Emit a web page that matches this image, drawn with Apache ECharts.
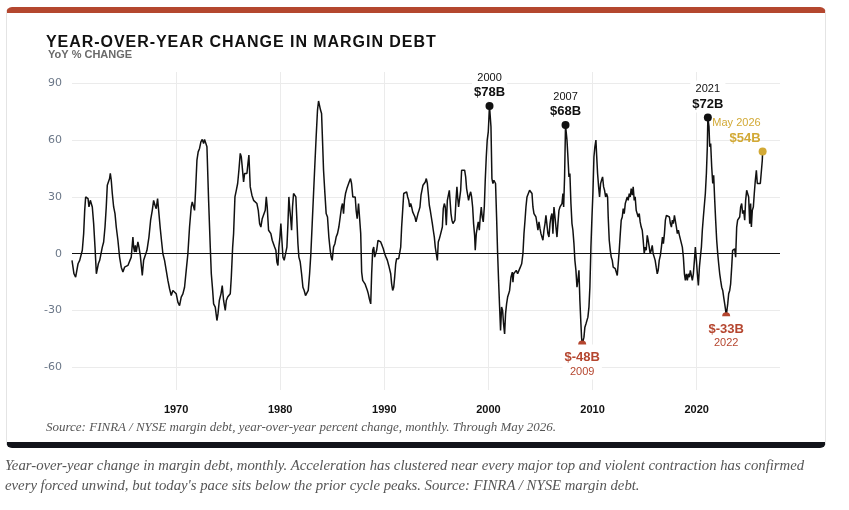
<!DOCTYPE html>
<html>
<head>
<meta charset="utf-8">
<title>Year-over-year change in margin debt</title>
<script src="https://cdn.jsdelivr.net/npm/echarts@6.0.0/dist/echarts.min.js"></script>
<style>
  html, body {
    margin: 0;
    padding: 0;
    background: #fff;
  }
  .page {
    position: relative;
    width: 849px;
    height: 510px;
    overflow: hidden;
  }
  .card {
    position: absolute;
    left: 6px;
    top: 7px;
    width: 820px;
    height: 441px;
    box-sizing: border-box;
    border-top: 6px solid #b4472f;
    border-bottom: 6px solid #12141a;
    border-left: 1px solid #e4e4e4;
    border-right: 1px solid #e4e4e4;
    border-radius: 6px;
    background: #fff;
  }
  #chart {
    position: absolute;
    left: 0;
    top: 0;
    width: 849px;
    height: 510px;
  }
  .title {
    position: absolute;
    left: 46px;
    top: 34px;
    font-family: "Liberation Sans", Arial, sans-serif;
    font-weight: bold;
    font-size: 16px;
    line-height: 16px;
    letter-spacing: 0.95px;
    color: #111;
    white-space: nowrap;
  }
  .source {
    position: absolute;
    left: 46px;
    top: 418px;
    font-family: "Liberation Serif", serif;
    font-style: italic;
    font-size: 13px;
    line-height: 18px;
    color: #555;
    white-space: nowrap;
  }
  .caption {
    position: absolute;
    left: 5px;
    top: 455px;
    font-family: "Liberation Serif", serif;
    font-style: italic;
    font-size: 14.75px;
    line-height: 20px;
    color: #555;
    white-space: nowrap;
  }
</style>
</head>
<body>
<div class="page">
  <div class="card"></div>
  <div id="chart"></div>
  <div class="title">YEAR-OVER-YEAR CHANGE IN MARGIN DEBT</div>
  <div class="source">Source: FINRA / NYSE margin debt, year-over-year percent change, monthly. Through May 2026.</div>
  <div class="caption">Year-over-year change in margin debt, monthly. Acceleration has clustered near every major top and violent contraction has confirmed<br>every forced unwind, but today's pace sits below the prior cycle peaks. Source: FINRA / NYSE margin debt.</div>
</div>

<script>
// YoY % change in margin debt, [year, pct]
const yoy1960s = [
  [1960.00, -3.5], [1960.19, -10.6], [1960.35, -12.4], [1960.51, -11.5], [1960.58, -5.3], [1960.74, -3.5], [1960.90, -4.4], [1960.99, 1.8],
  [1961.12, 10.6], [1961.22, 22.9], [1961.31, 30.0], [1961.44, 30.0], [1961.54, 29.1], [1961.63, 24.7], [1961.76, 28.2], [1961.86, 29.1], [1961.95, 24.7],
  [1962.08, 15.9], [1962.21, 3.5], [1962.34, -10.6], [1962.43, -10.6], [1962.53, -5.3], [1962.66, -3.5], [1962.82, -2.6], [1962.91, 3.5],
  [1963.04, 6.2], [1963.17, 14.1], [1963.29, 24.7], [1963.39, 36.2], [1963.49, 35.3], [1963.61, 39.7], [1963.68, 42.4], [1963.77, 38.8], [1963.87, 31.8],
  [1964.00, 24.7], [1964.13, 21.2], [1964.25, 14.1], [1964.41, 7.1], [1964.57, -1.8], [1964.73, -7.1], [1964.89, -9.7],
  [1965.05, -7.1], [1965.21, -7.9], [1965.37, -6.2], [1965.53, -7.1], [1965.69, -1.8], [1965.85, 8.8], [1965.92, 3.5],
  [1966.01, 0.9], [1966.08, 4.4], [1966.17, 0.9], [1966.33, 6.2], [1966.43, 3.5], [1966.56, -0.9], [1966.75, -11.5], [1966.88, -3.5],
  [1967.04, -4.4], [1967.20, 1.8], [1967.39, 8.8], [1967.55, 17.7], [1967.71, 22.9], [1967.84, 28.2], [1967.97, 25.6],
  [1968.09, 23.8], [1968.22, 29.1], [1968.35, 21.2], [1968.48, 13.2], [1968.61, 6.2], [1968.73, 0], [1968.89, -3.5],
  [1969.05, -8.8], [1969.21, -14.1], [1969.37, -18.5], [1969.53, -22.1], [1969.69, -19.4], [1969.85, -20.3]
]

const yoy1970s = [
  [1970.01, -21.2], [1970.17, -25.6], [1970.33, -27.4], [1970.49, -22.9], [1970.65, -21.2], [1970.81, -17.7], [1970.97, -8.8],
  [1971.13, 0], [1971.29, 14.1], [1971.45, 24.7], [1971.55, 27.4], [1971.68, 26.5], [1971.77, 22.9], [1971.87, 33.5],
  [1972.00, 49.4], [1972.12, 53.8], [1972.25, 55.6], [1972.38, 59.1], [1972.51, 60.4], [1972.64, 58.2], [1972.73, 60.4], [1972.90, 60.9], [1972.96, 56.5],
  [1973.12, 28.2], [1973.28, 3.5], [1973.38, -10.6], [1973.51, -19.4], [1973.60, -26.5], [1973.76, -28.2], [1973.92, -35.3],
  [1974.02, -31.8], [1974.15, -24.7], [1974.31, -21.2], [1974.43, -16.8], [1974.56, -24.7], [1974.72, -30.0], [1974.82, -24.7], [1974.95, -22.9],
  [1975.07, -22.9], [1975.20, -21.2], [1975.30, -12.4], [1975.43, 3.5], [1975.52, 10.6], [1975.65, 30.0], [1975.78, 33.5], [1975.91, 37.1],
  [1976.03, 44.1], [1976.16, 53.0], [1976.26, 51.2], [1976.35, 45.9], [1976.48, 37.9], [1976.58, 42.4], [1976.71, 43.2], [1976.80, 42.4], [1976.90, 47.7], [1976.99, 52.1],
  [1977.12, 35.3], [1977.28, 30.9], [1977.44, 28.2], [1977.60, 27.4], [1977.76, 26.5], [1977.89, 22.9],
  [1978.02, 15.9], [1978.14, 14.1], [1978.27, 18.5], [1978.40, 19.4], [1978.56, 22.9], [1978.66, 30.0], [1978.75, 24.7], [1978.88, 12.4],
  [1979.01, 11.5], [1979.10, 10.6], [1979.23, 7.1], [1979.36, 6.2], [1979.46, 3.5], [1979.58, 1.8], [1979.68, -4.4], [1979.78, -6.2], [1979.87, 3.5], [1979.97, 8.8]
]

const yoy1980s = [
  [1980.06, 15.9], [1980.16, 7.1], [1980.26, -1.8], [1980.38, -3.5], [1980.51, -4.4], [1980.64, 3.5], [1980.74, 15.9], [1980.83, 30.0], [1980.90, 24.7], [1980.99, 19.4],
  [1981.09, 12.4], [1981.18, 24.7], [1981.28, 31.8], [1981.41, 32.7], [1981.50, 30.0], [1981.60, 17.7], [1981.70, 5.3], [1981.79, -1.8], [1981.92, -4.4],
  [1982.05, -10.6], [1982.18, -17.7], [1982.30, -19.4], [1982.43, -22.1], [1982.56, -22.9], [1982.69, -19.4], [1982.82, -10.6], [1982.94, 0],
  [1983.07, 15.9], [1983.20, 31.8], [1983.33, 47.7], [1983.45, 61.8], [1983.58, 75.9], [1983.68, 80.7], [1983.77, 80.3], [1983.87, 75.9], [1983.97, 74.1],
  [1984.06, 60.0], [1984.16, 44.1], [1984.29, 31.8], [1984.41, 21.2], [1984.54, 19.4], [1984.67, 8.8], [1984.80, 1.8], [1984.89, -1.8], [1984.99, -3.5],
  [1985.12, 3.5], [1985.25, 5.3], [1985.37, 8.8], [1985.50, 10.6], [1985.63, 14.1], [1985.76, 19.4], [1985.89, 24.7], [1985.98, 26.5],
  [1986.08, 21.2], [1986.17, 28.2], [1986.27, 31.8], [1986.40, 34.4], [1986.49, 35.3], [1986.62, 37.9], [1986.75, 39.7], [1986.85, 37.1], [1986.97, 30.0],
  [1987.10, 30.9], [1987.20, 30.0], [1987.29, 22.9], [1987.39, 18.5], [1987.52, 26.5], [1987.63, 27.4], [1987.73, 10.6], [1987.82, -9.7], [1987.92, -14.1],
  [1988.05, -13.2], [1988.14, -15.9], [1988.24, -16.8], [1988.37, -19.4], [1988.46, -21.2], [1988.56, -23.8], [1988.69, -26.5], [1988.78, -10.6], [1988.88, 1.8], [1988.98, 3.5],
  [1989.07, -1.8], [1989.17, -1.8], [1989.26, 1.8], [1989.39, 7.1], [1989.52, 7.9], [1989.65, 6.2], [1989.78, 4.4], [1989.90, 2.6]
]

const yoy1990s = [
  [1990.03, 0], [1990.16, -1.8], [1990.29, -3.5], [1990.42, -6.2], [1990.51, -7.1], [1990.61, -10.6], [1990.70, -15.9], [1990.80, -19.4], [1990.90, -17.7], [1990.99, -12.4],
  [1991.09, -5.3], [1991.18, -2.6], [1991.28, -3.5], [1991.38, -2.6], [1991.47, -1.8], [1991.57, 3.5], [1991.66, 14.1], [1991.76, 22.9], [1991.86, 31.8], [1991.95, 32.7],
  [1992.05, 31.8], [1992.14, 32.7], [1992.24, 30.0], [1992.34, 28.2], [1992.43, 24.7], [1992.53, 26.5], [1992.62, 24.7], [1992.72, 22.1], [1992.82, 21.2], [1992.94, 19.4],
  [1993.04, 16.8], [1993.13, 15.9], [1993.23, 21.2], [1993.33, 22.9], [1993.42, 24.7], [1993.52, 30.9], [1993.61, 31.8], [1993.71, 36.2], [1993.81, 37.1], [1993.93, 37.9],
  [1994.03, 39.7], [1994.13, 37.1], [1994.22, 31.8], [1994.32, 25.6], [1994.41, 22.9], [1994.51, 19.4], [1994.61, 15.9], [1994.70, 12.4], [1994.80, 8.8], [1994.89, 3.5], [1994.99, 2.6],
  [1995.09, -3.5], [1995.18, 6.2], [1995.28, 7.9], [1995.37, 9.7], [1995.47, 10.6], [1995.57, 14.1], [1995.66, 23.8], [1995.76, 26.5], [1995.85, 24.7], [1995.95, 15.0],
  [1996.05, 28.2], [1996.14, 29.1], [1996.24, 33.5], [1996.33, 34.4], [1996.40, 21.2], [1996.49, 17.7], [1996.59, 15.9], [1996.69, 15.9], [1996.78, 17.7], [1996.88, 28.2], [1996.97, 35.3],
  [1997.04, 30.0], [1997.13, 24.7], [1997.23, 25.6], [1997.33, 33.5], [1997.42, 44.1], [1997.52, 45.0], [1997.61, 43.2], [1997.71, 44.1], [1997.81, 40.6], [1997.90, 34.4],
  [1998.00, 35.3], [1998.09, 28.2], [1998.19, 30.9], [1998.29, 32.7], [1998.38, 30.0], [1998.48, 24.7], [1998.57, 15.9], [1998.67, 9.7], [1998.73, 1.8], [1998.83, 10.6], [1998.93, 14.1],
  [1999.02, 16.8], [1999.12, 12.4], [1999.21, 19.4], [1999.31, 24.7], [1999.40, 19.4], [1999.50, 16.8], [1999.60, 24.7], [1999.69, 38.8], [1999.79, 51.2], [1999.88, 60.0], [1999.98, 64.4]
]

const yoy2000s = [
  [2000.10, 78], [2000.24, 67.1], [2000.33, 39.7], [2000.43, 37.1], [2000.52, 38.8], [2000.62, 39.7], [2000.68, 37.1], [2000.78, 19.4], [2000.88, 0], [2000.97, -14.1],
  [2001.07, -28.2], [2001.16, -40.6], [2001.26, -28.2], [2001.36, -30.0], [2001.45, -37.1], [2001.55, -42.4], [2001.64, -31.8], [2001.74, -26.5], [2001.84, -22.9], [2001.94, -21.2],
  [2002.03, -19.4], [2002.16, -12.4], [2002.29, -9.7], [2002.35, -15.0], [2002.42, -10.6], [2002.55, -9.7], [2002.67, -8.8], [2002.80, -10.6], [2002.93, -8.8],
  [2003.06, -7.1], [2003.19, -5.3], [2003.31, 0], [2003.41, 10.6], [2003.51, 17.7], [2003.60, 24.7], [2003.70, 30.0], [2003.83, 31.8], [2003.95, 33.5],
  [2004.08, 34.4], [2004.18, 31.8], [2004.27, 24.7], [2004.37, 21.2], [2004.47, 20.3], [2004.56, 19.4], [2004.66, 15.9], [2004.75, 12.4], [2004.85, 16.8], [2004.95, 13.2],
  [2005.04, 10.6], [2005.14, 9.7], [2005.23, 7.1], [2005.33, 12.4], [2005.43, 15.9], [2005.52, 20.3], [2005.62, 19.4], [2005.71, 10.6], [2005.81, 8.8], [2005.91, 15.9],
  [2006.00, 19.4], [2006.10, 21.2], [2006.19, 10.6], [2006.29, 24.7], [2006.39, 19.4], [2006.48, 14.1], [2006.58, 8.8], [2006.67, 15.9], [2006.77, 22.9], [2006.87, 24.7], [2006.96, 24.7],
  [2007.06, 26.5], [2007.15, 31.8], [2007.22, 24.7], [2007.31, 40.6], [2007.40, 68], [2007.54, 60.0], [2007.63, 51.2], [2007.73, 40.6], [2007.82, 42.4], [2007.92, 26.5],
  [2008.02, 15.9], [2008.11, 12.4], [2008.21, 5.3], [2008.30, -3.5], [2008.40, -8.8], [2008.50, -17.7], [2008.59, -14.1], [2008.69, -8.8], [2008.78, -24.7], [2008.88, -37.1], [2008.94, -44.1],
  [2009.00, -48], [2009.17, -44.1], [2009.26, -38.8], [2009.36, -37.1], [2009.46, -37.1], [2009.55, -33.5], [2009.65, -28.2], [2009.74, -17.7], [2009.84, 3.5], [2009.94, 19.4]
]

const yoy2010s = [
  [2010.03, 31.8], [2010.13, 51.2], [2010.22, 56.5], [2010.32, 60.0], [2010.38, 53.0], [2010.48, 42.4], [2010.58, 35.3], [2010.67, 30.0], [2010.77, 37.1], [2010.86, 38.8], [2010.96, 40.6],
  [2011.06, 35.3], [2011.15, 33.5], [2011.25, 30.0], [2011.34, 31.8], [2011.44, 30.0], [2011.50, 19.4], [2011.60, 7.1], [2011.70, 1.8], [2011.79, -1.8], [2011.89, -3.5], [2011.98, -7.1],
  [2012.08, -7.9], [2012.18, -7.9], [2012.27, -8.8], [2012.37, -11.5], [2012.46, -5.3], [2012.56, 1.8], [2012.66, 10.6], [2012.75, 17.7], [2012.85, 19.4], [2012.94, 23.8],
  [2013.04, 21.2], [2013.14, 26.5], [2013.23, 28.2], [2013.33, 30.0], [2013.42, 28.2], [2013.52, 31.8], [2013.61, 30.0], [2013.71, 34.4], [2013.81, 30.9], [2013.90, 35.3],
  [2014.00, 28.2], [2014.09, 30.0], [2014.19, 22.9], [2014.29, 22.1], [2014.38, 19.4], [2014.48, 21.2], [2014.57, 16.8], [2014.67, 14.1], [2014.77, 12.4], [2014.86, 7.1], [2014.96, 0],
  [2015.05, 3.5], [2015.15, 1.8], [2015.25, 9.7], [2015.34, 7.1], [2015.44, 3.5], [2015.53, 0], [2015.63, 1.8], [2015.73, 4.4], [2015.82, 0], [2015.92, -1.8],
  [2016.01, -3.5], [2016.11, -7.1], [2016.21, -10.6], [2016.30, -8.8], [2016.40, -3.5], [2016.51, -0.9], [2016.61, 3.5], [2016.71, 8.8], [2016.80, 5.3], [2016.90, 10.6], [2016.99, 17.7],
  [2017.09, 20.3], [2017.18, 19.4], [2017.28, 20.3], [2017.38, 19.4], [2017.47, 15.9], [2017.57, 14.1], [2017.66, 17.7], [2017.76, 15.9], [2017.86, 20.3], [2017.95, 21.2],
  [2018.05, 14.1], [2018.14, 10.6], [2018.24, 12.4], [2018.34, 9.7], [2018.43, 10.6], [2018.53, 8.8], [2018.62, 3.5], [2018.72, -1.8], [2018.82, -10.6], [2018.91, -14.1],
  [2019.01, -10.6], [2019.10, -14.1], [2019.20, -10.6], [2019.30, -12.4], [2019.39, -8.8], [2019.49, -7.9], [2019.58, -14.1], [2019.68, -10.6], [2019.78, -3.5], [2019.87, 3.5], [2019.97, -3.5]
]

const yoy2020s = [
  [2020.06, -10.6], [2020.16, -16.8], [2020.26, -7.1], [2020.35, -1.8], [2020.45, 3.5], [2020.54, 12.4], [2020.64, 19.4], [2020.74, 19.4], [2020.83, 31.8], [2020.93, 42.4],
  [2021.02, 56.5], [2021.07, 72], [2021.18, 67.1], [2021.25, 56.5], [2021.34, 58.2], [2021.44, 45.9], [2021.54, 37.1], [2021.63, 41.5], [2021.73, 28.2], [2021.82, 17.7], [2021.92, 7.1],
  [2022.02, 0], [2022.11, -5.3], [2022.21, -10.6], [2022.30, -14.1], [2022.40, -17.7], [2022.50, -19.4], [2022.59, -22.9], [2022.69, -26.5], [2022.78, -30.0], [2022.83, -33], [2022.98, -26.5],
  [2023.07, -21.2], [2023.17, -19.4], [2023.26, -15.9], [2023.36, -7.1], [2023.45, 1.8], [2023.55, 0.9], [2023.65, 2.6], [2023.74, -1.8], [2023.84, 14.1], [2023.93, 17.7],
  [2024.03, 17.7], [2024.13, 19.4], [2024.22, 24.7], [2024.32, 26.5], [2024.41, 21.2], [2024.51, 22.9], [2024.61, 17.7], [2024.70, 28.2], [2024.80, 33.5], [2024.89, 34.4], [2024.99, 30.0],
  [2025.09, 15.9], [2025.18, 26.5], [2025.25, 14.1], [2025.34, 22.9], [2025.44, 24.7], [2025.53, 31.8], [2025.63, 38.8], [2025.73, 44.1], [2025.82, 37.1], [2025.92, 36.2],
  [2026.01, 37.1], [2026.11, 37.1], [2026.21, 37.9], [2026.30, 49.4], [2026.33, 54]
]

// 标注点：cycle peaks, troughs and the latest reading
const calloutDates = [2000.10, 2007.40, 2009.00, 2021.07, 2022.83, 2026.33]
const calloutValues = [78, 68, -48, 72, -33, 54]
const calloutYears = ['2000', '2007', '2009', '2021', '2022', 'May 2026']
const calloutAmounts = ['$78B', '$68B', '$-48B', '$72B', '$-33B', '$54B']

const yTicks = [-60, -30, 0, 30, 60, 90]

const yoyData = [].concat(yoy1960s, yoy1970s, yoy1980s, yoy1990s, yoy2000s, yoy2010s, yoy2020s)

const RED = '#b5462f'
const GOLD = '#d2a935'
const INK = '#111'
const SANS = 'Liberation Sans, Arial, sans-serif'

function buildCallout(i) {
  const last = i === calloutDates.length - 1
  const up = calloutValues[i] >= 0
  const color = last ? GOLD : (up ? INK : RED)
  const labelText = up
    ? '{y|' + calloutYears[i] + '}\n{v|' + calloutAmounts[i] + '}'
    : '{v|' + calloutAmounts[i] + '}\n{y|' + calloutYears[i] + '}'
  return {
    value: [calloutDates[i], calloutValues[i]],
    itemStyle: { color: color, opacity: 1 },
    label: {
      show: true,
      position: up ? 'top' : 'bottom',
      // trough labels sit a little over their dot, as in the original
      distance: up ? 1 : -4,
      align: last ? 'right' : 'center',
      formatter: labelText,
      backgroundColor: last ? 'transparent' : '#fff',
      padding: up ? [1, 2] : [6, 2, 1, 2],
      rich: {
        y: { fontFamily: SANS, fontSize: 11, color: color, lineHeight: up ? 15 : 14, align: last ? 'right' : 'center' },
        v: { fontFamily: SANS, fontSize: 13, fontWeight: 'bold', color: color, lineHeight: up ? 15 : 14, align: last ? 'right' : 'center' }
      }
    }
  }
}

const chart = echarts.init(document.getElementById('chart'), null, { renderer: 'canvas' })

chart.setOption({
  animation: false,
  backgroundColor: 'transparent',
  title: {
    text: 'YoY % CHANGE',
    left: 48,
    top: 49,
    padding: 0,
    textStyle: { fontFamily: SANS, fontSize: 11, fontWeight: 'bold', color: '#6a6a6a' }
  },
  grid: {
    left: 72,
    right: 69,
    top: 72,
    bottom: 120,
    containLabel: false,
    outerBoundsMode: 'none'
  },
  xAxis: {
    type: 'value',
    min: 1960,
    max: 2028,
    interval: 10,
    axisLine: { show: false },
    axisTick: { show: false },
    axisLabel: {
      showMinLabel: false,
      showMaxLabel: false,
      margin: 14,
      color: INK,
      fontFamily: SANS,
      fontSize: 11,
      fontWeight: 'bold',
      formatter: (v) => String(v)
    },
    splitLine: {
      show: true,
      showMinLine: false,
      showMaxLine: false,
      lineStyle: { color: '#ebebeb', width: 1 }
    }
  },
  yAxis: {
    type: 'value',
    min: -72,
    max: 96,
    axisLine: { show: false },
    axisTick: { show: false, customValues: yTicks },
    axisLabel: {
      customValues: yTicks,
      margin: 10,
      color: '#6b7788',
      fontFamily: 'DejaVu Sans, sans-serif',
      fontSize: 11
    },
    splitLine: {
      show: true,
      lineStyle: { color: '#ebebeb', width: 1 }
    }
  },
  series: [
    {
      name: 'YoY change',
      type: 'line',
      data: yoyData,
      showSymbol: false,
      symbol: 'none',
      lineStyle: { color: INK, width: 1.5 },
      z: 3,
      markLine: {
        silent: true,
        symbol: ['none', 'none'],
        label: { show: false },
        lineStyle: { color: INK, width: 1, type: 'solid' },
        data: [{ yAxis: 0 }]
      }
    },
    {
      name: 'Callouts',
      type: 'scatter',
      symbolSize: 8,
      z: 5,
      data: calloutDates.map((d, i) => buildCallout(i))
    }
  ]
})
</script>
</body>
</html>
